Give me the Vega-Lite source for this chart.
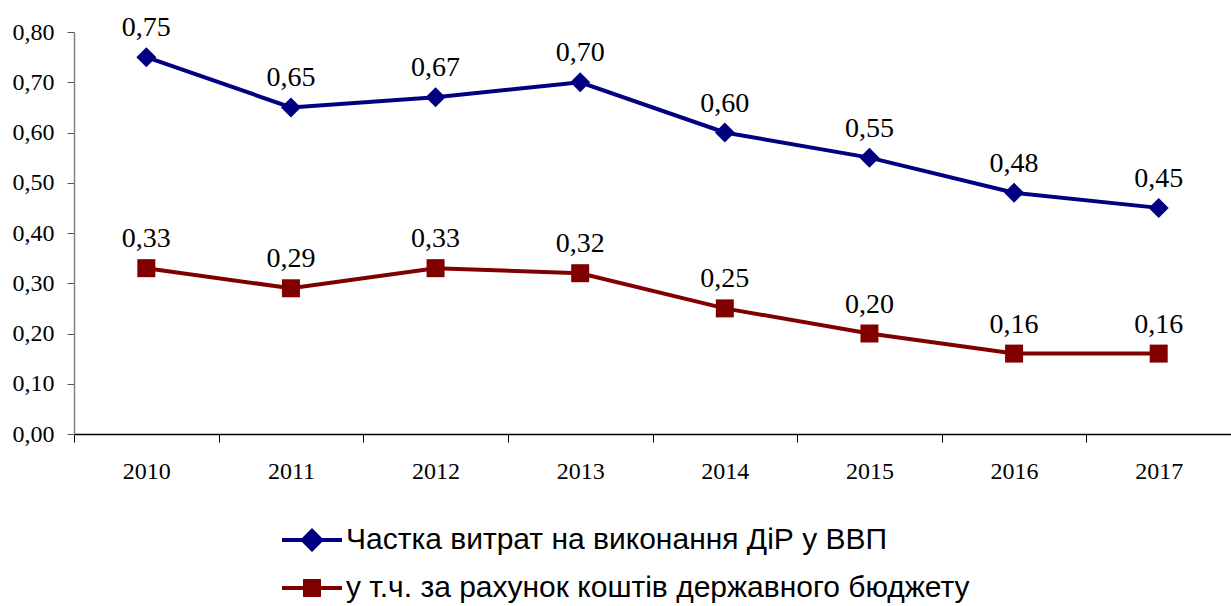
{
  "$schema": "https://vega.github.io/schema/vega-lite/v6.json",
  "width": 1157,
  "height": 402,
  "autosize": "none",
  "padding": {"left": 74, "top": 32, "right": 0, "bottom": 172},
  "background": "white",
  "config": {"view": {"stroke": null}, "font": "Times New Roman, Liberation Serif, serif"},
  "data": {
    "values": [
      {"year": "2010", "series": "Частка витрат на виконання ДіР у ВВП", "value": 0.75},
      {"year": "2011", "series": "Частка витрат на виконання ДіР у ВВП", "value": 0.65},
      {"year": "2012", "series": "Частка витрат на виконання ДіР у ВВП", "value": 0.67},
      {"year": "2013", "series": "Частка витрат на виконання ДіР у ВВП", "value": 0.70},
      {"year": "2014", "series": "Частка витрат на виконання ДіР у ВВП", "value": 0.60},
      {"year": "2015", "series": "Частка витрат на виконання ДіР у ВВП", "value": 0.55},
      {"year": "2016", "series": "Частка витрат на виконання ДіР у ВВП", "value": 0.48},
      {"year": "2017", "series": "Частка витрат на виконання ДіР у ВВП", "value": 0.45},
      {"year": "2010", "series": "у т.ч. за рахунок коштів державного бюджету", "value": 0.33},
      {"year": "2011", "series": "у т.ч. за рахунок коштів державного бюджету", "value": 0.29},
      {"year": "2012", "series": "у т.ч. за рахунок коштів державного бюджету", "value": 0.33},
      {"year": "2013", "series": "у т.ч. за рахунок коштів державного бюджету", "value": 0.32},
      {"year": "2014", "series": "у т.ч. за рахунок коштів державного бюджету", "value": 0.25},
      {"year": "2015", "series": "у т.ч. за рахунок коштів державного бюджету", "value": 0.20},
      {"year": "2016", "series": "у т.ч. за рахунок коштів державного бюджету", "value": 0.16},
      {"year": "2017", "series": "у т.ч. за рахунок коштів державного бюджету", "value": 0.16}
    ]
  },
  "transform": [
    {"calculate": "replace(format(datum.value, '.2f'), '.', ',')", "as": "label"}
  ],
  "encoding": {
    "x": {
      "field": "year",
      "type": "ordinal",
      "bandPosition": 0.5,
      "scale": {"type": "band", "paddingInner": 0, "paddingOuter": 0},
      "axis": {
        "title": null,
        "labelAngle": 0,
        "tickBand": "extent",
        "domainColor": "#000000",
        "domainWidth": 1.5,
        "tickColor": "#000000",
        "tickSize": 8,
        "labelFont": "Times New Roman, Liberation Serif, serif",
        "labelFontSize": 24,
        "labelColor": "#000000",
        "labelPadding": 17,
        "grid": false
      }
    },
    "y": {
      "field": "value",
      "type": "quantitative",
      "scale": {"domain": [0, 0.8], "nice": false, "zero": true},
      "axis": {
        "title": null,
        "values": [0, 0.1, 0.2, 0.3, 0.4, 0.5, 0.6, 0.7, 0.8],
        "labelExpr": "replace(format(datum.value, '.2f'), '.', ',')",
        "grid": false,
        "domainColor": "#808080",
        "domainWidth": 1.5,
        "tickColor": "#555555",
        "tickSize": 7,
        "labelFont": "Times New Roman, Liberation Serif, serif",
        "labelFontSize": 24,
        "labelColor": "#000000",
        "labelPadding": 13
      }
    },
    "color": {
      "field": "series",
      "type": "nominal",
      "scale": {
        "domain": ["Частка витрат на виконання ДіР у ВВП", "у т.ч. за рахунок коштів державного бюджету"],
        "range": ["#000080", "#800000"]
      },
      "legend": {
        "title": null,
        "orient": "none",
        "legendX": 223,
        "legendY": 493,
        "direction": "vertical",
        "symbolSize": 900,
        "symbolStrokeWidth": 0,
        "labelFont": "Liberation Sans Narrow, Arial Narrow, Liberation Sans, sans-serif",
        "labelFontSize": 30,
        "labelColor": "#000000",
        "labelOffset": 19,
        "labelLimit": 800,
        "rowPadding": 18,
        "encode": {
          "symbols": {
            "update": {
              "shape": {"signal": "datum.value == 'Частка витрат на виконання ДіР у ВВП' ? 'M-2,-0.13H2V0.13H-2Z M0,-0.8L0.8,0L0,0.8L-0.8,0Z' : 'M-2,-0.13H2V0.13H-2Z M-0.6,-0.6H0.6V0.6H-0.6Z'"},
              "fill": {"signal": "datum.value == 'Частка витрат на виконання ДіР у ВВП' ? '#000080' : '#800000'"},
              "stroke": {"value": "transparent"},
              "strokeWidth": {"value": 0},
              "opacity": {"value": 1},
              "fillOpacity": {"value": 1}
            }
          }
        }
      }
    }
  },
  "layer": [
    {
      "mark": {"type": "line", "strokeWidth": 4}
    },
    {
      "transform": [{"filter": "datum.series == 'Частка витрат на виконання ДіР у ВВП'"}],
      "mark": {"type": "point", "shape": "diamond", "filled": true, "opacity": 1, "strokeWidth": 0, "size": 400}
    },
    {
      "transform": [{"filter": "datum.series != 'Частка витрат на виконання ДіР у ВВП'"}],
      "mark": {"type": "point", "shape": "square", "filled": true, "opacity": 1, "strokeWidth": 0, "size": 324}
    },
    {
      "mark": {"type": "text", "font": "Times New Roman, Liberation Serif, serif", "fontSize": 28, "dy": -21, "baseline": "alphabetic", "color": "#000000"},
      "encoding": {
        "text": {"field": "label"},
        "color": {"value": "#000000"}
      }
    }
  ]
}
